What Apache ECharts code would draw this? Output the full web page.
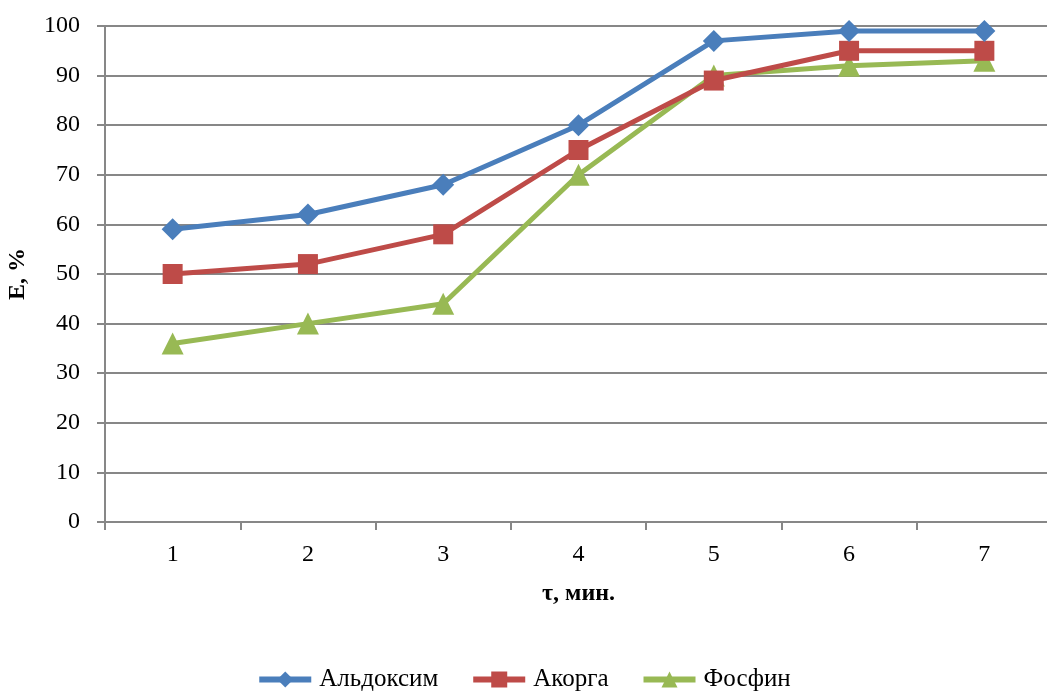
<!DOCTYPE html>
<html>
<head>
<meta charset="utf-8">
<script src="https://cdn.jsdelivr.net/npm/echarts@6/dist/echarts.min.js"></script>
<style>
  html, body { margin: 0; padding: 0; background: #fff; }
  #chart { width: 1047px; height: 691px; }
</style>
</head>
<body>
<div id="chart"></div>
<script>
// Time points, minutes
const categories = ['1', '2', '3', '4', '5', '6', '7'];
// Extraction degree E, %
const aldoxim = [59, 62, 68, 80, 97, 99, 99];
const akorga = [50, 52, 58, 75, 89, 95, 95];
const fosfin = [36, 40, 44, 70, 90, 92, 93];

const FONT = '"Liberation Serif", "Times New Roman", serif';
const AXIS_GRAY = '#878787';

const chart = echarts.init(document.getElementById('chart'), null, { renderer: 'canvas' });

chart.setOption({
  animation: false,
  backgroundColor: '#ffffff',
  grid: { left: 105, width: 947, top: 26, height: 496, containLabel: false, outerBoundsMode: 'none' },
  legend: {
    top: 667,
    left: 'center',
    padding: 0,
    itemWidth: 52,
    itemHeight: 20,
    itemGap: 32,
    lineStyle: { width: 6 },
    textStyle: { fontFamily: FONT, fontSize: 25, color: '#000', padding: [0, 0, 0, 3] },
    data: ['Альдоксим', 'Акорга', 'Фосфин']
  },
  xAxis: {
    type: 'category',
    data: categories,
    boundaryGap: true,
    name: 'τ, мин.',
    nameLocation: 'middle',
    nameGap: 60,
    nameTextStyle: { fontFamily: FONT, fontSize: 24, fontWeight: 'bold', color: '#000', align: 'center' },
    axisLine: { show: true, lineStyle: { color: AXIS_GRAY, width: 2 } },
    axisTick: { show: true, length: 8, lineStyle: { color: AXIS_GRAY, width: 2 } },
    axisLabel: { fontFamily: FONT, fontSize: 24, color: '#000', margin: 21 },
    splitLine: { show: false }
  },
  yAxis: {
    type: 'value',
    min: 0,
    max: 100,
    interval: 10,
    name: 'E, %',
    nameLocation: 'middle',
    nameGap: 75,
    nameRotate: 90,
    nameTextStyle: { fontFamily: FONT, fontSize: 24, fontWeight: 'bold', color: '#000' },
    axisLine: { show: true, lineStyle: { color: AXIS_GRAY, width: 2 } },
    axisTick: { show: true, length: 8, lineStyle: { color: AXIS_GRAY, width: 2 } },
    axisLabel: { fontFamily: FONT, fontSize: 24, color: '#000', margin: 25 },
    splitLine: { show: true, lineStyle: { color: AXIS_GRAY, width: 2 } }
  },
  series: [
    {
      name: 'Альдоксим',
      type: 'line',
      data: aldoxim,
      symbol: 'diamond',
      symbolSize: 22,
      color: '#4A7EBB',
      lineStyle: { width: 5, color: '#4A7EBB' },
      itemStyle: { color: '#4A7EBB' },
      z: 4
    },
    {
      name: 'Акорга',
      type: 'line',
      data: akorga,
      symbol: 'rect',
      symbolSize: 20,
      color: '#BE4B48',
      lineStyle: { width: 5, color: '#BE4B48' },
      itemStyle: { color: '#BE4B48' },
      z: 3
    },
    {
      name: 'Фосфин',
      type: 'line',
      data: fosfin,
      symbol: 'triangle',
      symbolSize: 22,
      color: '#98B954',
      lineStyle: { width: 5, color: '#98B954' },
      itemStyle: { color: '#98B954' },
      z: 2
    }
  ]
});
</script>
</body>
</html>
